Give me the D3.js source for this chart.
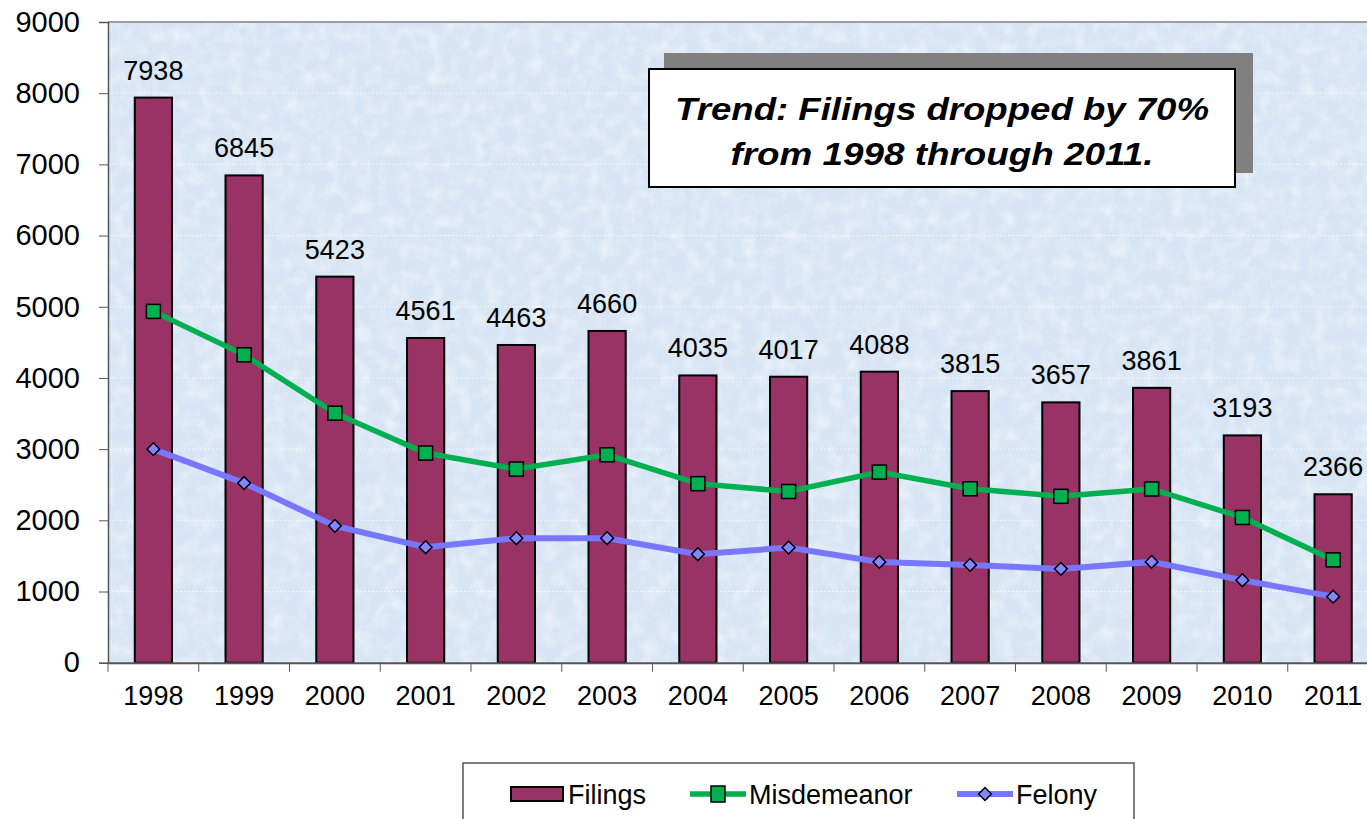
<!DOCTYPE html>
<html>
<head>
<meta charset="utf-8">
<script src="https://cdn.jsdelivr.net/npm/d3@7"></script>
<style>
  body { margin: 0; background: #fff; }
  svg { display: block; font-family: Arial, "Liberation Sans", sans-serif; }
</style>
</head>
<body>
<div id="chart"></div>
<script>
var width = 1367,
    height = 819;

// data
var years = ["1998", "1999", "2000", "2001", "2002", "2003", "2004",
             "2005", "2006", "2007", "2008", "2009", "2010", "2011"];
var filings = [7938, 6845, 5423, 4561, 4463, 4660, 4035, 4017, 4088, 3815, 3657, 3861, 3193, 2366];
var misdemeanor = [4935, 4325, 3505, 2945, 2720, 2920, 2515, 2405, 2678, 2443, 2337, 2440, 2040, 1444];
var felony = [3000, 2523, 1922, 1622, 1749, 1749, 1524, 1617, 1416, 1374, 1318, 1416, 1159, 928];
var yTicks = [0, 1000, 2000, 3000, 4000, 5000, 6000, 7000, 8000, 9000];
var trendLines = ["Trend: Filings dropped by 70%", "from 1998 through 2011."];

// "top" is taken by window.top, so use other names
var plotLeft = 108, plotRight = 1378.5, plotTop = 22, plotBottom = 662.7;
var fontSize = 27;

var x = d3.scaleBand()
    .domain(years)
    .range([plotLeft, plotRight])
    .paddingInner(0.59)
    .paddingOuter(0.295);

var y = d3.scaleLinear()
    .domain([0, 9000])
    .range([plotBottom, plotTop]);

var svg = d3.select("#chart").append("svg")
    .attr("width", width)
    .attr("height", height);

// textured light blue plot background
var defs = svg.append("defs");
var filt = defs.append("filter").attr("id", "tex")
    .attr("x", 0).attr("y", 0).attr("width", 1).attr("height", 1);
filt.append("feTurbulence").attr("type", "fractalNoise")
    .attr("baseFrequency", "0.07").attr("numOctaves", 3).attr("seed", 7).attr("result", "n");
filt.append("feColorMatrix").attr("in", "n").attr("type", "matrix")
    .attr("values", "0 0 0 0 1  0 0 0 0 1  0 0 0 0 1  0 0 0 0.9 -0.35")
    .attr("result", "w");
filt.append("feComposite").attr("in", "w").attr("in2", "SourceGraphic").attr("operator", "atop");

svg.append("rect")
    .attr("x", plotLeft).attr("y", plotTop)
    .attr("width", width - plotLeft).attr("height", plotBottom - plotTop)
    .attr("fill", "#d6e4f4")
    .attr("filter", "url(#tex)");

// faint grid lines
svg.append("g").selectAll("line")
    .data(yTicks.slice(1))
    .enter().append("line")
    .attr("x1", plotLeft).attr("x2", width)
    .attr("y1", function(d) { return y(d); })
    .attr("y2", function(d) { return y(d); })
    .attr("stroke", "#fff")
    .attr("stroke-opacity", 0.7)
    .attr("stroke-dasharray", "2,2");

// top border of plot area
svg.append("line")
    .attr("x1", plotLeft).attr("x2", width)
    .attr("y1", plotTop).attr("y2", plotTop)
    .attr("stroke", "#808080").attr("stroke-width", 1.5);

// trend box with shadow
var bx = 649, by = 69, bw = 586, bh = 118;
svg.append("rect")
    .attr("x", bx + 15).attr("y", by - 16)
    .attr("width", bw + 3).attr("height", bh + 2)
    .attr("fill", "#808080");
svg.append("rect")
    .attr("x", bx).attr("y", by)
    .attr("width", bw).attr("height", bh)
    .attr("fill", "#fff")
    .attr("stroke", "#000").attr("stroke-width", 2);
svg.append("g").selectAll("text")
    .data(trendLines)
    .enter().append("text")
    .attr("x", bx + bw / 2)
    .attr("y", function(d, i) { return by + 51 + i * 45; })
    .attr("text-anchor", "middle")
    .attr("font-size", 31)
    .attr("font-weight", "bold")
    .attr("font-style", "italic")
    .attr("textLength", function(d, i) { return i === 0 ? 534 : 423; })
    .attr("lengthAdjust", "spacingAndGlyphs")
    .text(function(d) { return d; });

// bars
svg.append("g").selectAll("rect")
    .data(filings)
    .enter().append("rect")
    .attr("x", function(d, i) { return x(years[i]); })
    .attr("y", function(d) { return y(d); })
    .attr("width", x.bandwidth())
    .attr("height", function(d) { return y(0) - y(d); })
    .attr("fill", "#993366")
    .attr("stroke", "#000")
    .attr("stroke-width", 2);

svg.append("g").selectAll("text")
    .data(filings)
    .enter().append("text")
    .attr("x", function(d, i) { return x(years[i]) + x.bandwidth() / 2; })
    .attr("y", function(d) { return y(d) - 18; })
    .attr("text-anchor", "middle")
    .attr("font-size", fontSize)
    .text(function(d) { return d; });

var cx = function(d, i) { return x(years[i]) + x.bandwidth() / 2; };
var line = d3.line()
    .x(cx)
    .y(function(d) { return y(d); });

// misdemeanor
svg.append("path")
    .datum(misdemeanor)
    .attr("d", line)
    .attr("fill", "none")
    .attr("stroke", "#00b050")
    .attr("stroke-width", 5.5);
svg.append("g").selectAll("rect")
    .data(misdemeanor)
    .enter().append("rect")
    .attr("x", function(d, i) { return cx(d, i) - 7; })
    .attr("y", function(d) { return y(d) - 7; })
    .attr("width", 14).attr("height", 14)
    .attr("fill", "#00b050")
    .attr("stroke", "#000")
    .attr("stroke-width", 1.5);

// felony
svg.append("path")
    .datum(felony)
    .attr("d", line)
    .attr("fill", "none")
    .attr("stroke", "#7777ff")
    .attr("stroke-width", 6);
var diamond = d3.symbol().type(d3.symbolDiamond2).size(105);
svg.append("g").selectAll("path")
    .data(felony)
    .enter().append("path")
    .attr("transform", function(d, i) { return "translate(" + cx(d, i) + "," + y(d) + ")"; })
    .attr("d", diamond)
    .attr("fill", "#8585ff")
    .attr("stroke", "#000")
    .attr("stroke-width", 1.5);

// y axis
var yAxis = svg.append("g")
    .attr("transform", "translate(" + plotLeft + ",0)")
    .call(d3.axisLeft(y).tickValues(yTicks).tickFormat(d3.format("d")).tickSize(9).tickPadding(19));
yAxis.select(".domain").attr("stroke", "#555").attr("stroke-width", 1.5);
yAxis.selectAll(".tick line").attr("stroke", "#555");
yAxis.selectAll("text").attr("font-size", 29).attr("font-family", "Arial, 'Liberation Sans', sans-serif").attr("fill", "#000");

// x axis
var xAxis = svg.append("g")
    .attr("transform", "translate(0," + plotBottom + ")")
    .call(d3.axisBottom(x).tickSize(0).tickPadding(23));
xAxis.select(".domain").attr("stroke", "#555").attr("stroke-width", 2);
xAxis.selectAll("text").attr("font-size", fontSize).attr("font-family", "Arial, 'Liberation Sans', sans-serif").attr("fill", "#000");
var edge = (x.step() - x.bandwidth()) / 2;
xAxis.selectAll(".bound")
    .data(years)
    .enter().append("line")
    .attr("class", "bound")
    .attr("x1", function(d) { return x(d) - edge; })
    .attr("x2", function(d) { return x(d) - edge; })
    .attr("y1", 0).attr("y2", 9)
    .attr("stroke", "#555");

// legend
var legend = svg.append("g");
legend.append("rect")
    .attr("x", 463).attr("y", 763)
    .attr("width", 671).attr("height", 70)
    .attr("fill", "#fff")
    .attr("stroke", "#555").attr("stroke-width", 1.5);
legend.append("rect")
    .attr("x", 511).attr("y", 787)
    .attr("width", 52).attr("height", 14)
    .attr("fill", "#993366").attr("stroke", "#000").attr("stroke-width", 2);
legend.append("text").attr("x", 568).attr("y", 804).attr("font-size", fontSize).text("Filings");

legend.append("line")
    .attr("x1", 690).attr("x2", 746).attr("y1", 794).attr("y2", 794)
    .attr("stroke", "#00b050").attr("stroke-width", 5.5);
legend.append("rect")
    .attr("x", 711).attr("y", 786).attr("width", 14).attr("height", 16)
    .attr("fill", "#00b050").attr("stroke", "#000").attr("stroke-width", 1.5);
legend.append("text").attr("x", 749).attr("y", 804).attr("font-size", fontSize).text("Misdemeanor");

legend.append("line")
    .attr("x1", 957).attr("x2", 1013).attr("y1", 794).attr("y2", 794)
    .attr("stroke", "#7777ff").attr("stroke-width", 6);
legend.append("path")
    .attr("transform", "translate(985,794)")
    .attr("d", diamond)
    .attr("fill", "#8585ff").attr("stroke", "#000").attr("stroke-width", 1.5);
legend.append("text").attr("x", 1016).attr("y", 804).attr("font-size", fontSize).text("Felony");
</script>
</body>
</html>
